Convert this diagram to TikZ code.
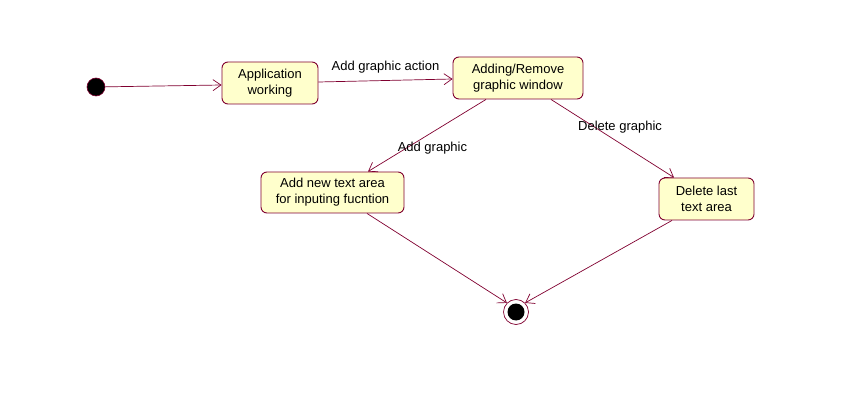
\documentclass[tikz,border=0pt]{standalone}
\usepackage{fontspec}
\setmainfont{Liberation Sans}
\usetikzlibrary{arrows.meta}
\definecolor{umlline}{RGB}{128,0,48}
\definecolor{umlfill}{RGB}{255,255,204}
\tikzset{
  state/.style={draw=umlline, fill=umlfill, rounded corners=6pt, line width=0.9pt,
    align=center, font=\fontsize{13}{16}\selectfont, inner sep=0pt},
  trans/.style={draw=umlline, line width=0.7pt, -{Straight Barb[length=8pt,width=11pt,line width=0.7pt]}},
  lbl/.style={font=\fontsize{13}{16}\selectfont, inner sep=0pt, anchor=center},
}
\begin{document}
\begin{tikzpicture}[x=1pt,y=-1pt]
\useasboundingbox (0,0) rectangle (861,411);
\node[circle, fill=black, draw=umlline, line width=0.6pt, minimum size=18pt, inner sep=0pt] (init) at (96,87) {};
\node[state, minimum width=96pt, minimum height=42pt] (app) at (270,83) {Application\\working};
\node[state, minimum width=130pt, minimum height=42pt] (add) at (518,78) {Adding/Remove\\graphic window};
\node[state, minimum width=143pt, minimum height=41pt] (newt) at (332.5,192.5) {Add new text area\\for inputing fucntion};
\node[state, minimum width=95pt, minimum height=42pt] (del) at (706.5,199) {Delete last\\text area};
\node[circle, draw=umlline, fill=white, line width=0.7pt, minimum size=25pt, inner sep=0pt] (fin) at (516,312) {};
\node[circle, fill=black, minimum size=17pt, inner sep=0pt] (finin) at (fin) {};
\draw[trans] (init) -- (app.west |- 0,85);
\draw[trans] (app.east |- 0,82) -- node[lbl, pos=0.5, yshift=13.5pt] {Add graphic action} (add.west |- 0,79);
\draw[trans] (add.south -| 486,0) -- node[lbl, pos=0.67, xshift=25.5pt] {Add graphic} (newt.north -| 368,0);
\draw[trans] (add.south -| 551,0) -- node[lbl, pos=0.35, xshift=26pt] {Delete graphic} (del.north -| 674,0);
\draw[trans] (newt.south -| 367,0) -- (fin.north west);
\draw[trans] (del.south -| 672,0) -- (fin.north east);
\end{tikzpicture}
\end{document}
